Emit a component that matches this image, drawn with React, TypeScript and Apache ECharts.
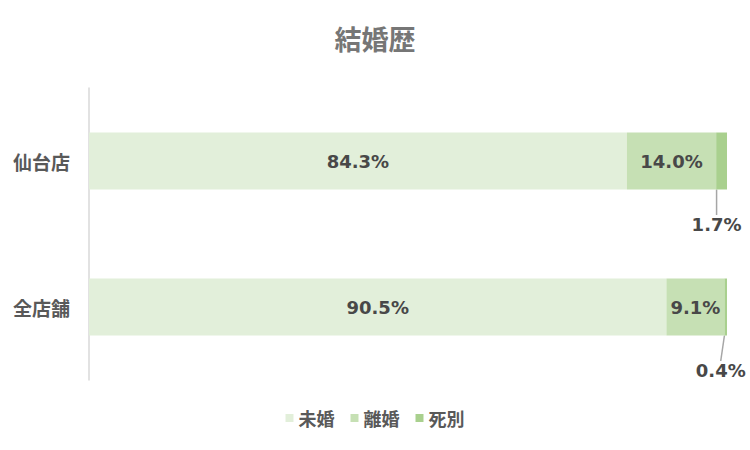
import React, { useEffect, useRef } from 'react';
import * as echarts from 'echarts';

const categories = ['全店舗', '仙台店'];
const unmarried = [90.5, 84.3];
const divorced = [9.1, 14.0];
const bereaved = [0.4, 1.7];

const labelColor = '#484848';
const font = '"Noto Sans CJK JP", "Noto Sans", sans-serif';
const numFont = '"DejaVu Sans", "Noto Sans CJK JP", sans-serif';

const App: React.FC = () => {
  const chartRef = useRef<HTMLDivElement>(null);

  useEffect(() => {
    document.body.style.margin = '0';
    if (!chartRef.current) return;
    const chart = echarts.init(chartRef.current, undefined, { renderer: 'svg' });

    const insideLabel = {
      show: true,
      position: 'inside' as const,
      formatter: (p: any) => p.value.toFixed(1) + '%',
      color: labelColor,
      fontSize: 18,
      fontWeight: 'bold' as const,
      fontFamily: numFont,
    };

    chart.setOption({
      animation: false,
      textStyle: { fontFamily: font },
      title: {
        text: '結婚歴',
        left: 'center',
        top: 20,
        textStyle: { color: '#767676', fontSize: 27, fontWeight: 'bold', fontFamily: font },
      },
      legend: {
        top: 404,
        left: 'center',
        itemWidth: 8,
        itemHeight: 8,
        itemGap: 16,
        icon: 'rect',
        textStyle: { color: '#595959', fontSize: 18, fontWeight: 'bold', fontFamily: font },
        data: ['未婚', '離婚', '死別'],
      },
      grid: { left: 89, right: 23, top: 88, bottom: 70 },
      xAxis: {
        type: 'value',
        min: 0,
        max: 100,
        show: false,
      },
      yAxis: {
        type: 'category',
        data: categories,
        axisLine: { show: true, lineStyle: { color: '#d9d9d9', width: 1.5 } },
        axisTick: { show: false },
        axisLabel: {
          color: '#595959',
          fontSize: 19,
          fontWeight: 'bold',
          fontFamily: font,
          margin: 19,
        },
      },
      series: [
        {
          name: '未婚',
          type: 'bar',
          stack: 'total',
          barWidth: 57,
          data: unmarried,
          itemStyle: { color: '#e2efda' },
          label: insideLabel,
        },
        {
          name: '離婚',
          type: 'bar',
          stack: 'total',
          data: divorced,
          itemStyle: { color: '#c6e0b4' },
          label: insideLabel,
        },
        {
          name: '死別',
          type: 'bar',
          stack: 'total',
          data: bereaved,
          itemStyle: { color: '#a9d08e' },
          label: insideLabel,
          labelLayout: { dx: -5, dy: 63 },
          labelLine: { show: true, lineStyle: { color: '#a6a6a6', width: 1.5 } },
        },
      ],
    });

    return () => chart.dispose();
  }, []);

  return <div ref={chartRef} style={{ width: 750, height: 450 }} />;
};

export default App;
